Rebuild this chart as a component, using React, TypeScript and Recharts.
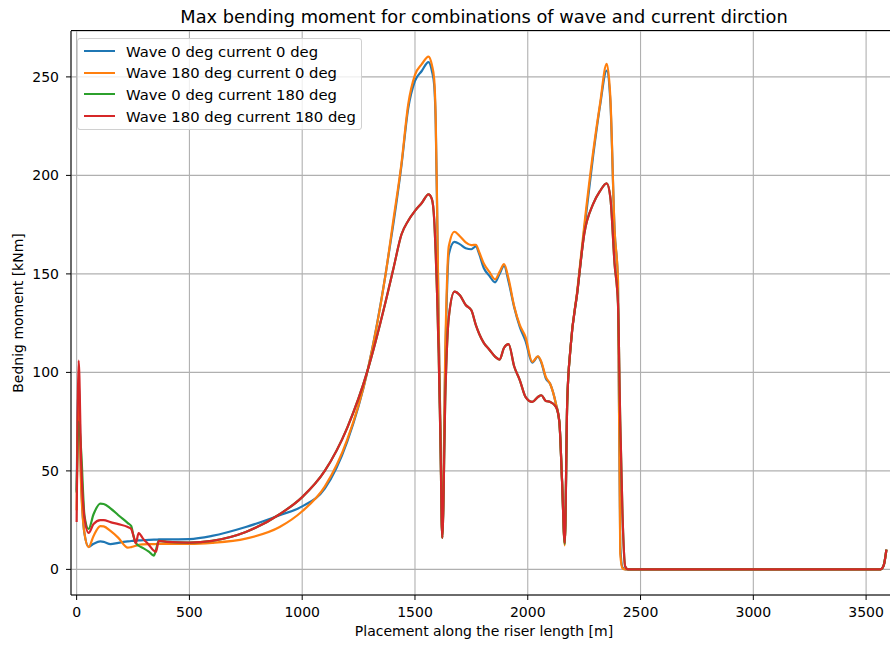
import { LineChart, Line, XAxis, YAxis, CartesianGrid } from "recharts";

const FONT = "'DejaVu Sans', sans-serif";

// placement along the riser [m]
const positions = [
  0, 9, 20, 35, 53, 75, 105, 120, 150, 185,
  227, 242, 252, 262, 275, 295, 320, 342, 352, 364,
  400, 500, 600, 750, 900, 1000, 1100, 1200, 1290, 1370,
  1405, 1440, 1470, 1500, 1530, 1560, 1575, 1585, 1592, 1598,
  1605, 1613, 1621, 1635, 1650, 1675, 1700, 1725, 1750, 1770,
  1785, 1805, 1830, 1855, 1875, 1895, 1915, 1940, 1965, 1990,
  2020, 2045, 2060, 2080, 2100, 2125, 2140, 2152, 2164, 2175,
  2190, 2220, 2250, 2290, 2320, 2350, 2366, 2385, 2400, 2410,
  2420, 2432, 2445, 3000, 3565, 3578, 3590,
];

// max bending moment [kNm]
const wave0Current0 = [
  40, 95, 45, 18, 11.5, 13, 14.2, 14, 12.8, 13.5,
  14.2, 14.4, 14.5, 14.6, 14.7, 14.8, 15, 15.1, 15.1, 15.2,
  15.2, 15.4, 17, 21.5, 27.5, 32, 41, 65, 101, 150,
  176, 205, 234, 248, 253, 257.5, 253, 246, 226, 183,
  123, 70, 16, 110, 160, 166.3, 165, 163, 162.5, 164,
  160, 153, 149, 145.7, 150, 154, 146, 133, 123, 116,
  105, 108, 105, 97, 94, 84, 75, 45, 13, 85,
  113, 141, 172, 210, 235, 253.2, 238, 172, 146, 12,
  1, 0, 0, 0, 0, 2, 10,
];

const wave180Current0 = [
  30, 90, 42, 18, 11.3, 17, 22, 21.8, 19.5, 16,
  11, 11.3, 11.6, 12, 12.5, 12.7, 12.8, 12.8, 12.9, 13,
  13, 13, 13.5, 15.6, 21.5, 29.5, 42, 66, 101, 150,
  178, 206, 236, 251, 256.5, 260.3, 256, 249, 228, 185,
  125, 70, 16, 115, 164, 171.4, 169, 166, 164.6, 164.8,
  161, 155.3, 151, 147.2, 151, 155, 147.5, 133.5, 124, 118,
  105.3, 108.2, 105.5, 97.7, 94, 84, 75, 45, 12.2, 85,
  113, 142, 174, 212, 236, 256.6, 240, 172, 147, 8,
  0.5, 0, 0, 0, 0, 2, 10,
];

const wave0Current180 = [
  39, 75, 60, 27, 20.5, 28, 33.4, 33.2, 31, 27.5,
  23.5, 22, 17, 13.5, 12, 10.8, 9, 7, 10, 14.5,
  14, 13.6, 14.5, 19, 28, 36.7, 50, 72, 101, 136,
  153, 170, 177, 182, 186, 190.4, 188, 178, 160, 140,
  110, 65, 16, 90, 128, 141, 139, 134.2, 131.5, 124,
  119.5, 115, 111.5, 108, 106.5, 112.5, 114.3, 103, 96, 87.6,
  85, 87.5, 88.4, 85.5, 85, 82.5, 75, 45, 13, 85,
  113, 141, 170, 185.5, 192, 196, 189, 155, 135, 75,
  28, 1.5, 0, 0, 0, 2, 10,
];

const wave180Current180 = [
  24, 106, 55, 26, 18.5, 23, 25, 25, 24, 23,
  21.5, 20.5, 17, 13.3, 18.4, 15.5, 12.5, 9.5, 9, 14.5,
  14, 13.6, 14.5, 19, 28, 36.7, 50, 72, 101, 136,
  153, 170, 177, 182, 186, 190.4, 188, 178, 160, 140,
  110, 65, 16, 90, 128, 141, 139, 134.2, 131.5, 124,
  119.5, 115, 111.5, 108, 106.5, 112.5, 114.3, 103, 96, 87.6,
  85, 87.5, 88.4, 85.5, 85, 82.5, 75, 45, 13.5, 85,
  113, 141, 170, 185.5, 192, 196, 189, 155, 135, 75,
  28, 1.5, 0, 0, 0, 2, 10,
];

const xTicks = [0, 500, 1000, 1500, 2000, 2500, 3000, 3500];
const yTicks = [0, 50, 100, 150, 200, 250];

const series = [
  { key: "w0c0", name: "Wave 0 deg current 0 deg", color: "#1f77b4", values: wave0Current0 },
  { key: "w180c0", name: "Wave 180 deg current 0 deg", color: "#ff7f0e", values: wave180Current0 },
  { key: "w0c180", name: "Wave 0 deg current 180 deg", color: "#2ca02c", values: wave0Current180 },
  { key: "w180c180", name: "Wave 180 deg current 180 deg", color: "#d62728", values: wave180Current180 },
];

const data = positions.map((x, i) => {
  const row: Record<string, number> = { x };
  series.forEach((s) => (row[s.key] = s.values[i]));
  return row;
});

export default function App() {
  return (
    <div style={{ position: "absolute", left: 0, top: 0, width: 890, height: 645, overflow: "hidden", background: "#fff", fontFamily: FONT }}>
      <div style={{ position: "absolute", left: 71, top: 7, width: 826, textAlign: "center", fontSize: 17.8, lineHeight: "20px", color: "#000" }}>
        Max bending moment for combinations of wave and current dirction
      </div>
      <LineChart width={897} height={645} data={data} margin={{ top: 31, right: 0, left: 11, bottom: 0 }}>
        <CartesianGrid stroke="#b0b0b0" strokeWidth={1.1} />
        <XAxis
          dataKey="x"
          type="number"
          domain={[-25, 3637]}
          ticks={xTicks}
          interval={0}
          allowDataOverflow
          height={50}
          tickSize={5}
          tickMargin={7}
          stroke="#000"
          tick={{ fill: "#000", fontSize: 14, fontFamily: FONT }}
          label={{ value: "Placement along the riser length [m]", position: "insideBottom", offset: 9, fill: "#000", fontSize: 14, fontFamily: FONT }}
        />
        <YAxis
          type="number"
          domain={[-13, 273.3]}
          ticks={yTicks}
          interval={0}
          allowDataOverflow
          width={60}
          tickSize={5}
          tickMargin={7}
          stroke="#000"
          tick={{ fill: "#000", fontSize: 14, fontFamily: FONT }}
          label={{ value: "Bednig moment [kNm]", angle: -90, position: "insideLeft", offset: 7, fill: "#000", fontSize: 14, fontFamily: FONT, style: { textAnchor: "middle" } }}
        />
        {series.map((s) => (
          <Line
            key={s.key}
            dataKey={s.key}
            name={s.name}
            type="monotone"
            stroke={s.color}
            strokeWidth={2.2}
            dot={false}
            isAnimationActive={false}
          />
        ))}
      </LineChart>
      {/* top spine */}
      <div style={{ position: "absolute", left: 71, top: 30, width: 826, borderTop: "1px solid #000" }} />
      {/* legend */}
      <div
        style={{
          position: "absolute",
          left: 77,
          top: 38,
          width: 283,
          padding: "1.5px 0 2.5px 0",
          border: "1px solid #d0d0d0",
          borderRadius: 3,
          background: "rgba(255,255,255,0.8)",
          fontSize: 14.8,
          color: "#000",
        }}
      >
        {series.map((s) => (
          <div key={s.key} style={{ display: "flex", alignItems: "center", height: 21.6 }}>
            <div style={{ marginLeft: 6, width: 31, height: 0, borderTop: `2.2px solid ${s.color}` }} />
            <span style={{ marginLeft: 11, whiteSpace: "nowrap" }}>{s.name}</span>
          </div>
        ))}
      </div>
    </div>
  );
}
